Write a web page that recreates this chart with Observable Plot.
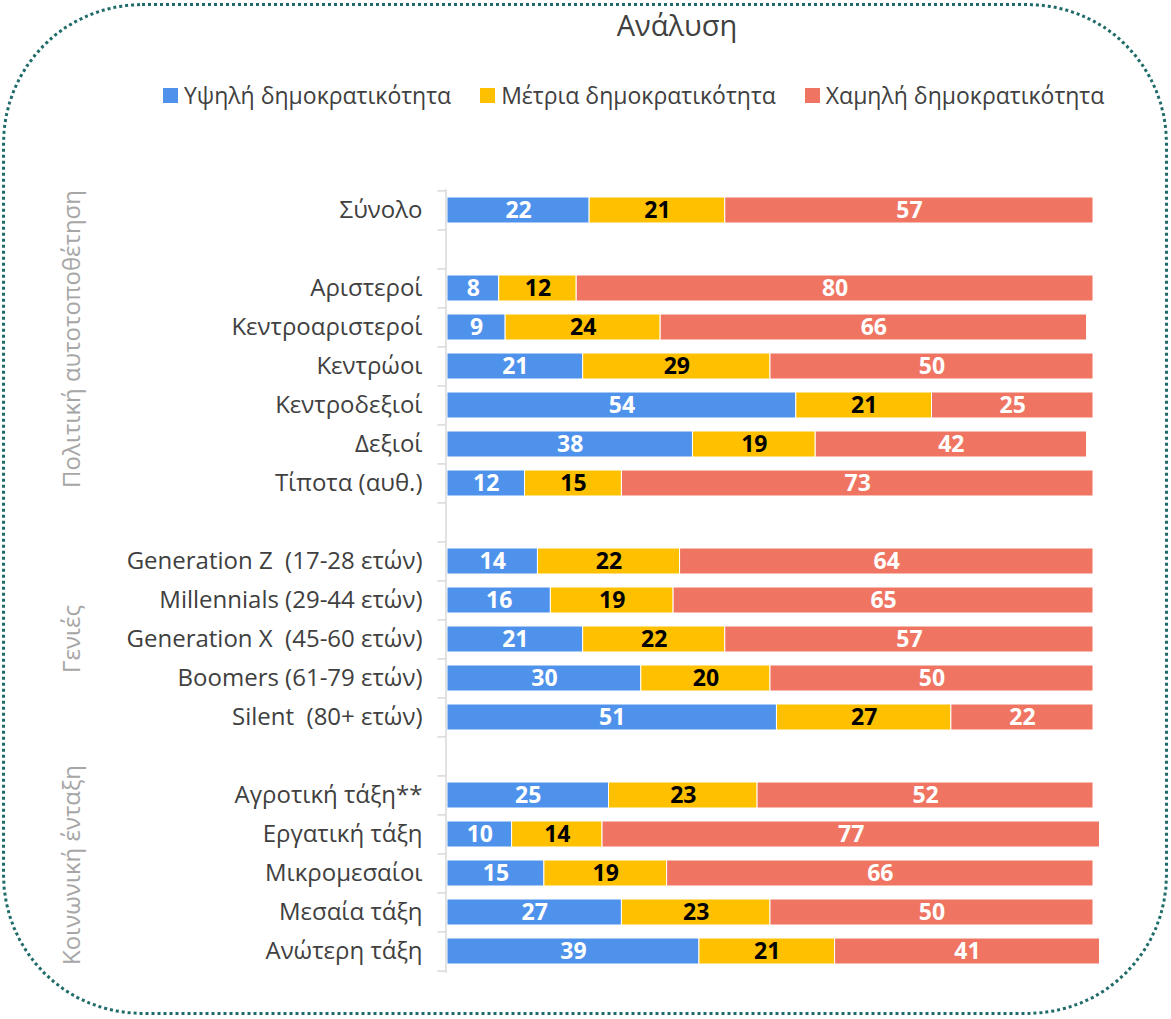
<!DOCTYPE html>
<html><head><meta charset="utf-8">
<script src="https://cdn.jsdelivr.net/npm/d3@7"></script>
<script src="https://cdn.jsdelivr.net/npm/@observablehq/plot@0.6"></script>
<style>
body{margin:0;background:#fff;font-family:"Open Sans",sans-serif;}
#wrap{position:relative;width:1171px;height:1019px;overflow:hidden;background:#fff}
#frame{position:absolute;left:2px;top:3px;width:1160px;height:1006px;border:3px dotted #1f6b69;border-radius:140px;}
#title{position:absolute;top:5px;left:677px;transform:translateX(-50%);font-size:29px;line-height:normal;color:#404040;white-space:nowrap}
#legend{position:absolute;top:79px;left:163px;display:flex;align-items:center;font-size:23px;line-height:normal;color:#404040;white-space:nowrap}
#legend .it{display:flex;align-items:center;margin-right:29px}
#legend .sw{width:15px;height:15px;margin-right:6px}
#chart{position:absolute;left:0;top:130px}
.grp{position:absolute;transform:translate(-50%,-50%) rotate(-90deg);font-size:24px;line-height:normal;color:#a6a6a6;white-space:nowrap}
svg text{white-space:pre}
</style></head>
<body><div id="wrap"><div id="frame"></div><div id="title"></div><div id="legend"></div><div id="chart"></div></div>
<script>
const title = "Ανάλυση";
const series = ["Υψηλή δημοκρατικότητα", "Μέτρια δημοκρατικότητα", "Χαμηλή δημοκρατικότητα"];
const colors = ["#4f92ec", "#ffc000", "#ef7562"];
const categories = ["Σύνολο", " ", "Αριστεροί", "Κεντροαριστεροί", "Κεντρώοι", "Κεντροδεξιοί", "Δεξιοί", "Τίποτα (αυθ.)",
  "  ", "Generation Z  (17-28 ετών)", "Millennials (29-44 ετών)", "Generation X  (45-60 ετών)", "Boomers (61-79 ετών)", "Silent  (80+ ετών)",
  "   ", "Αγροτική τάξη**", "Εργατική τάξη", "Μικρομεσαίοι", "Μεσαία τάξη", "Ανώτερη τάξη"];
const high = [22, null, 8, 9, 21, 54, 38, 12, null, 14, 16, 21, 30, 51, null, 25, 10, 15, 27, 39];
const mid  = [21, null, 12, 24, 29, 21, 19, 15, null, 22, 19, 22, 20, 27, null, 23, 14, 19, 23, 21];
const low  = [57, null, 80, 66, 50, 25, 42, 73, null, 64, 65, 57, 50, 22, null, 52, 77, 66, 50, 41];
const groupNames = ["Πολιτική αυτοτοποθέτηση", "Γενιές", "Κοινωνική ένταξη"];
const groupAt = ["Κεντροαριστεροί", "Generation X  (45-60 ετών)", "Μικρομεσαίοι"];
const groupShift = [12, 0, -8];

document.getElementById("title").textContent = title;
const leg = document.getElementById("legend");
series.forEach((s, i) => {
  const it = document.createElement("div"); it.className = "it";
  const sw = document.createElement("div"); sw.className = "sw"; sw.style.background = colors[i];
  const tx = document.createElement("span"); tx.textContent = s;
  it.append(sw, tx); leg.append(it);
});

const vals = [high, mid, low];
const data = [];
categories.forEach((c, i) => series.forEach((s, j) => {
  if (vals[j][i] != null) data.push({cat: c, series: s, value: vals[j][i]});
}));

const top0 = 130;
const marginTop = 59, marginBottom = 30, height = 873;
const step = (height - marginTop - marginBottom) / categories.length;
const font = "Open Sans";
const gridColor = "#d9d9d9";

const chart = Plot.plot({
  width: 1171, height, marginLeft: 447, marginRight: 78, marginTop, marginBottom,
  style: {fontFamily: font, fontSize: "24px", color: "#404040", background: "transparent"},
  x: {domain: [0, 100], axis: null},
  y: {domain: categories, paddingInner: 0.33, paddingOuter: 0.165, label: null, tickSize: 0, tickPadding: 25,
      tickFormat: d => d.trim() === "" ? "" : d},
  color: {domain: series, range: colors},
  marks: [
    Plot.barX(data, {x: "value", y: "cat", fill: "series", order: series, stroke: "#fff", strokeWidth: 1}),
    Plot.text(data, Plot.stackX({x: "value", y: "cat", z: "series", order: series, text: d => String(d.value),
      fill: d => d.series === series[1] ? "#000" : "#fff", fontWeight: "bold", fontSize: 23})),
    Plot.ruleX([0], {stroke: gridColor, strokeWidth: 1.5, dx: -1.5}),
    Plot.ruleY(categories, {y: d => d, x1: -1.25, x2: 0, dx: -1.5, dy: -step / 2, stroke: gridColor, strokeWidth: 1.5}),
    Plot.ruleY([categories[categories.length - 1]], {y: d => d, x1: -1.25, x2: 0, dx: -1.5, dy: step / 2, stroke: gridColor, strokeWidth: 1.5})
  ]
});
document.getElementById("chart").append(chart);

const ys = chart.scale("y");
const wrap = document.getElementById("wrap");
groupNames.forEach((g, i) => {
  const d = document.createElement("div");
  d.className = "grp";
  d.textContent = g;
  d.style.left = "70px";
  d.style.top = (top0 + ys.apply(groupAt[i]) + ys.bandwidth / 2 + groupShift[i]) + "px";
  wrap.append(d);
});
</script>
</body></html>
